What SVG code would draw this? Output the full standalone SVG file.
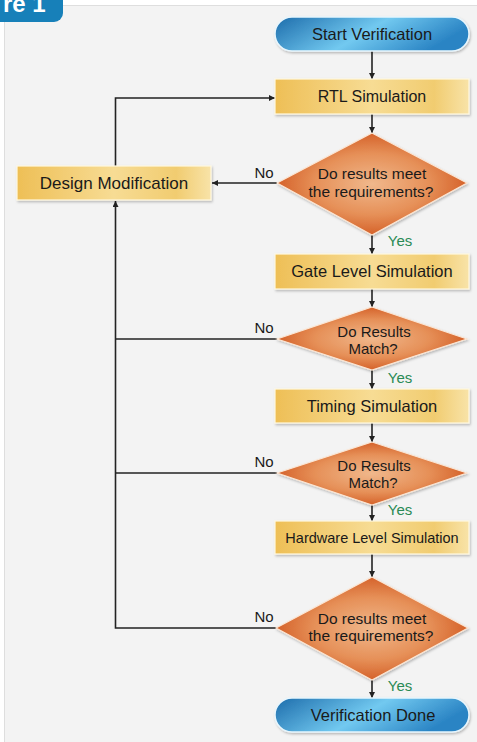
<svg xmlns="http://www.w3.org/2000/svg" width="477" height="742" viewBox="0 0 477 742">
<defs>
<style>
.lbl{font-family:"Liberation Sans",Arial,sans-serif;fill:#1a1a1a;text-anchor:middle}
.box{fill:url(#gold);stroke:#fff8e2;stroke-width:1.2;filter:url(#sh)}
.pill{fill:url(#blue);stroke:#e8f6fd;stroke-width:1.5;filter:url(#sh)}
.dia{fill:url(#orange);stroke:#fbe6d4;stroke-width:1.2;filter:url(#sh)}
.ln{fill:none;stroke:#222;stroke-width:1.6}
.no{font-family:"Liberation Sans",Arial,sans-serif;font-size:15px;fill:#1a1a1a}
.yes{font-family:"Liberation Sans",Arial,sans-serif;font-size:15px;fill:#2a8a55}
</style>
<linearGradient id="gold" x1="0" y1="0" x2="1" y2="0">
<stop offset="0" stop-color="#eebf56"/>
<stop offset="0.5" stop-color="#f7dc94"/>
<stop offset="0.82" stop-color="#f1cc70"/>
<stop offset="1" stop-color="#f8e3a8"/>
</linearGradient>
<linearGradient id="blue" x1="0" y1="0" x2="1" y2="0.3">
<stop offset="0" stop-color="#1c6cab"/>
<stop offset="0.55" stop-color="#72c9f0"/>
<stop offset="1" stop-color="#2a84c4"/>
</linearGradient>
<radialGradient id="orange" cx="0.5" cy="0.5" r="0.5">
<stop offset="0" stop-color="#f0b88c"/>
<stop offset="0.6" stop-color="#e69058"/>
<stop offset="1" stop-color="#d5622a"/>
</radialGradient>
<filter id="sh" x="-10%" y="-20%" width="120%" height="150%">
<feDropShadow dx="1" dy="1.5" stdDeviation="1.2" flood-color="#000" flood-opacity="0.25"/>
</filter>
<marker id="ar" viewBox="0 0 10 10" refX="10" refY="5" markerWidth="6" markerHeight="6" markerUnits="userSpaceOnUse" orient="auto">
<path d="M0,0 L10,5 L0,10 z" fill="#222"/>
</marker>
</defs>
<rect x="0" y="0" width="477" height="742" fill="#ffffff"/>
<rect x="4.5" y="5.5" width="490" height="760" fill="#f3f3f3" stroke="#dedede" stroke-width="1"/>
<g id="tab">
<rect x="-12" y="-12" width="75" height="34" rx="9" fill="#1780b9"/>
<text x="3" y="12" font-family="Liberation Sans,Arial,sans-serif" font-size="24" font-weight="bold" fill="#ffffff">re 1</text>
</g>
<g id="connectors">
<line class="ln" x1="372" y1="51" x2="372" y2="79" marker-end="url(#ar)"/>
<line class="ln" x1="372" y1="114" x2="372" y2="133" marker-end="url(#ar)"/>
<line class="ln" x1="372" y1="235" x2="372" y2="254" marker-end="url(#ar)"/>
<line class="ln" x1="372" y1="289" x2="372" y2="307" marker-end="url(#ar)"/>
<line class="ln" x1="372" y1="370" x2="372" y2="389" marker-end="url(#ar)"/>
<line class="ln" x1="372" y1="423" x2="372" y2="442" marker-end="url(#ar)"/>
<line class="ln" x1="372" y1="505" x2="372" y2="521" marker-end="url(#ar)"/>
<line class="ln" x1="372" y1="554" x2="372" y2="577" marker-end="url(#ar)"/>
<line class="ln" x1="372" y1="680" x2="372" y2="698" marker-end="url(#ar)"/>
<line class="ln" x1="277" y1="183" x2="212" y2="183" marker-end="url(#ar)"/>
<polyline class="ln" points="115.5,166 115.5,98 275,98" marker-end="url(#ar)"/>
<polyline class="ln" points="277,628 115.5,628 115.5,201" marker-end="url(#ar)"/>
<line class="ln" x1="277" y1="339" x2="115.5" y2="339"/>
<line class="ln" x1="277" y1="473" x2="115.5" y2="473"/>
<text class="no" x="264" y="178" text-anchor="middle">No</text>
<text class="no" x="264" y="333" text-anchor="middle">No</text>
<text class="no" x="264" y="467" text-anchor="middle">No</text>
<text class="no" x="264" y="622" text-anchor="middle">No</text>
<text class="yes" x="400" y="246" text-anchor="middle">Yes</text>
<text class="yes" x="400" y="383" text-anchor="middle">Yes</text>
<text class="yes" x="400" y="515" text-anchor="middle">Yes</text>
<text class="yes" x="400" y="691" text-anchor="middle">Yes</text>
</g>
<g id="start">
<rect class="pill" x="275" y="17" width="194" height="34" rx="17"/>
<text class="lbl" x="372" y="39.5" font-size="16.5">Start Verification</text>
</g>
<g id="rtl">
<rect class="box" x="275" y="79" width="194" height="35"/>
<text class="lbl" x="372" y="102" font-size="16">RTL Simulation</text>
</g>
<g id="dec1">
<polygon class="dia" points="372,133 467,183 372,235 277,183"/>
<text class="lbl" font-size="15.5"><tspan x="372" y="179">Do results meet</tspan><tspan x="371" y="196.5">the requirements?</tspan></text>
</g>
<g id="designmod">
<rect class="box" x="17" y="166" width="194" height="34"/>
<text class="lbl" x="114" y="189" font-size="17">Design Modification</text>
</g>
<g id="gate">
<rect class="box" x="275" y="254" width="194" height="35"/>
<text class="lbl" x="372" y="277" font-size="16.5">Gate Level Simulation</text>
</g>
<g id="dec2">
<polygon class="dia" points="372,307 467,339 372,370 277,339"/>
<text class="lbl" font-size="15"><tspan x="374" y="336.5">Do Results</tspan><tspan x="373" y="353.5">Match?</tspan></text>
</g>
<g id="timing">
<rect class="box" x="275" y="389" width="194" height="34"/>
<text class="lbl" x="372" y="412" font-size="16.5">Timing Simulation</text>
</g>
<g id="dec3">
<polygon class="dia" points="372,442 467,473 372,505 277,473"/>
<text class="lbl" font-size="15"><tspan x="374" y="471">Do Results</tspan><tspan x="373" y="488">Match?</tspan></text>
</g>
<g id="hardware">
<rect class="box" x="275" y="521" width="194" height="33"/>
<text class="lbl" x="372" y="543" font-size="14.5">Hardware Level Simulation</text>
</g>
<g id="dec4">
<polygon class="dia" points="372,577 468,628 372,680 276,628"/>
<text class="lbl" font-size="15.5"><tspan x="372" y="623.5">Do results meet</tspan><tspan x="371" y="641">the requirements?</tspan></text>
</g>
<g id="done">
<rect class="pill" x="275" y="698" width="194" height="34" rx="17"/>
<text class="lbl" x="373" y="720.5" font-size="16.5">Verification Done</text>
</g>
</svg>
